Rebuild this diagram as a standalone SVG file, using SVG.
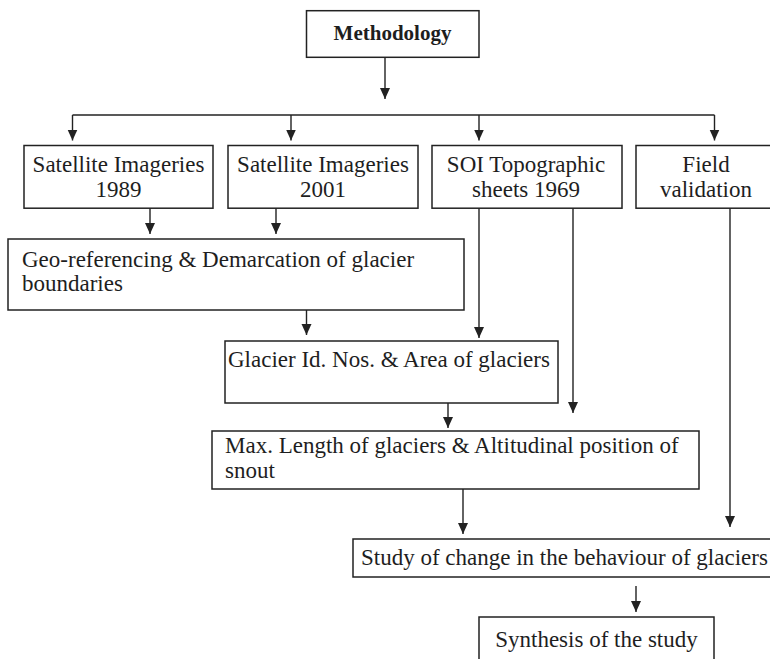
<svg xmlns="http://www.w3.org/2000/svg" width="770" height="659" viewBox="0 0 770 659">
<style>
  .box { fill: #ffffff; stroke: #222222; stroke-width: 1.5; }
  .t { font-family: "Liberation Serif", "Times New Roman", serif; font-size: 23px; fill: #1e1e1e; }
  .c { text-anchor: middle; }
  .b { font-weight: bold; font-size: 21px; }
  .ln { fill: none; stroke: #222222; stroke-width: 1.4; }
</style>
<defs>
  <marker id="ah" markerUnits="userSpaceOnUse" markerWidth="11" markerHeight="11" refX="11" refY="5" orient="auto">
    <path d="M0,0 L11,5 L0,10 z" fill="#222222"/>
  </marker>
</defs>
<rect width="770" height="659" fill="#ffffff"/>

<g id="connectors">
  <path class="ln" d="M385,57.3 V99" marker-end="url(#ah)"/>
  <path class="ln" d="M72.5,115 H714.5"/>
  <path class="ln" d="M72.5,115 V140.5" marker-end="url(#ah)"/>
  <path class="ln" d="M291,115 V140.5" marker-end="url(#ah)"/>
  <path class="ln" d="M479,115 V140.5" marker-end="url(#ah)"/>
  <path class="ln" d="M714.5,115 V140.5" marker-end="url(#ah)"/>
  <path class="ln" d="M150,208 V234" marker-end="url(#ah)"/>
  <path class="ln" d="M276,208 V234" marker-end="url(#ah)"/>
  <path class="ln" d="M479,208 V338" marker-end="url(#ah)"/>
  <path class="ln" d="M573,208 V413" marker-end="url(#ah)"/>
  <path class="ln" d="M730,208 V527" marker-end="url(#ah)"/>
  <path class="ln" d="M306.5,310 V335" marker-end="url(#ah)"/>
  <path class="ln" d="M448,403 V428" marker-end="url(#ah)"/>
  <path class="ln" d="M463,489 V534" marker-end="url(#ah)"/>
  <path class="ln" d="M636,586 V612" marker-end="url(#ah)"/>
</g>

<g id="methodology">
  <rect class="box" x="306.5" y="10.7" width="172.5" height="46.6"/>
  <text class="t c b" x="392.5" y="40">Methodology</text>
</g>
<g id="sat1989">
  <rect class="box" x="24" y="145.5" width="189" height="62.7"/>
  <text class="t c" x="118.5" y="171.5">Satellite Imageries</text>
  <text class="t c" x="118.5" y="197">1989</text>
</g>
<g id="sat2001">
  <rect class="box" x="228" y="145.5" width="190" height="62.7"/>
  <text class="t c" x="323" y="171.5">Satellite Imageries</text>
  <text class="t c" x="323" y="197">2001</text>
</g>
<g id="soi">
  <rect class="box" x="432" y="145.5" width="190" height="62.7"/>
  <text class="t c" x="526" y="171.5">SOI Topographic</text>
  <text class="t c" x="526" y="197">sheets 1969</text>
</g>
<g id="field">
  <rect class="box" x="636" y="145.5" width="150" height="62.7"/>
  <text class="t c" x="706" y="171.5">Field</text>
  <text class="t c" x="706" y="197">validation</text>
</g>
<g id="georef">
  <rect class="box" x="8" y="239" width="456" height="71"/>
  <text class="t" x="22" y="266.5">Geo-referencing &amp; Demarcation of glacier</text>
  <text class="t" x="22" y="291">boundaries</text>
</g>
<g id="glacierid">
  <rect class="box" x="225" y="341" width="333" height="62"/>
  <text class="t" x="228" y="367">Glacier Id. Nos. &amp; Area of glaciers</text>
</g>
<g id="maxlength">
  <rect class="box" x="212" y="431" width="487" height="58"/>
  <text class="t" x="225" y="453">Max. Length of glaciers &amp; Altitudinal position of</text>
  <text class="t" x="225" y="478">snout</text>
</g>
<g id="study">
  <rect class="box" x="353" y="539" width="430" height="38"/>
  <text class="t" x="361" y="565">Study of change in the behaviour of glaciers</text>
</g>
<g id="synthesis">
  <rect class="box" x="479" y="617" width="235" height="60"/>
  <text class="t c" x="596.5" y="647">Synthesis of the study</text>
</g>
</svg>
